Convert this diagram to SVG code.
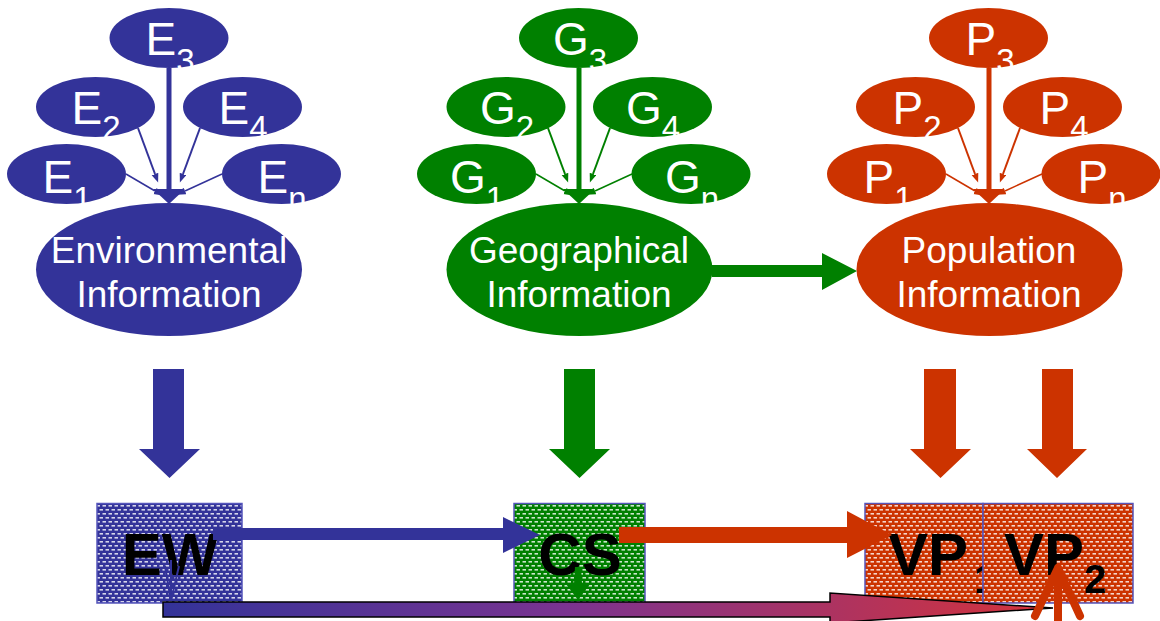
<svg xmlns="http://www.w3.org/2000/svg" width="1160" height="621" viewBox="0 0 1160 621">
<style>
.sub{font-family:"Liberation Sans",Arial,sans-serif;font-size:46px;fill:#fff;text-anchor:middle}
.sub tspan.s{font-size:33px}
.ml{font-family:"Liberation Sans",Arial,sans-serif;font-size:37px;fill:#fff;text-anchor:middle}
.bx{font-family:"Liberation Sans",Arial,sans-serif;font-size:60px;font-weight:bold;fill:#000}
.blue{fill:#333399}.green{fill:#008000}.red{fill:#cc3300}
.box{stroke:#5555bb;stroke-width:1.5}
</style>
<defs>
<pattern id="pB" width="6" height="8" patternUnits="userSpaceOnUse"><rect width="6" height="8" fill="#333399"/><rect x="0.5" y="1" width="3.5" height="1.6" fill="#fff" opacity="0.8"/><rect x="3.5" y="5" width="3.5" height="1.6" fill="#fff" opacity="0.8"/><rect x="-2.5" y="5" width="3.5" height="1.6" fill="#fff" opacity="0.8"/></pattern>
<pattern id="pG" width="6" height="8" patternUnits="userSpaceOnUse"><rect width="6" height="8" fill="#008000"/><rect x="0.5" y="1" width="3.5" height="1.6" fill="#fff" opacity="0.8"/><rect x="3.5" y="5" width="3.5" height="1.6" fill="#fff" opacity="0.8"/><rect x="-2.5" y="5" width="3.5" height="1.6" fill="#fff" opacity="0.8"/></pattern>
<pattern id="pR" width="6" height="8" patternUnits="userSpaceOnUse"><rect width="6" height="8" fill="#cc3300"/><rect x="0.5" y="1" width="3.5" height="1.6" fill="#fff" opacity="0.8"/><rect x="3.5" y="5" width="3.5" height="1.6" fill="#fff" opacity="0.8"/><rect x="-2.5" y="5" width="3.5" height="1.6" fill="#fff" opacity="0.8"/></pattern>
<linearGradient id="grad" gradientUnits="userSpaceOnUse" x1="163" y1="0" x2="1053" y2="0"><stop offset="0" stop-color="#333399"/><stop offset="0.45" stop-color="#7a3390"/><stop offset="1" stop-color="#d6333a"/></linearGradient>
<marker id="mbT" markerUnits="userSpaceOnUse" markerWidth="16" markerHeight="34" refX="0" refY="16" orient="auto"><path d="M0,0 L15,16 L0,32 z" fill="#333399"/></marker>
<marker id="mbt" markerUnits="userSpaceOnUse" markerWidth="10" markerHeight="8" refX="0" refY="3.5" orient="auto"><path d="M0,0 L9,3.5 L0,7 z" fill="#333399"/></marker>
<marker id="mgT" markerUnits="userSpaceOnUse" markerWidth="16" markerHeight="34" refX="0" refY="16" orient="auto"><path d="M0,0 L15,16 L0,32 z" fill="#008000"/></marker>
<marker id="mgt" markerUnits="userSpaceOnUse" markerWidth="10" markerHeight="8" refX="0" refY="3.5" orient="auto"><path d="M0,0 L9,3.5 L0,7 z" fill="#008000"/></marker>
<marker id="mrT" markerUnits="userSpaceOnUse" markerWidth="16" markerHeight="34" refX="0" refY="16" orient="auto"><path d="M0,0 L15,16 L0,32 z" fill="#cc3300"/></marker>
<marker id="mrt" markerUnits="userSpaceOnUse" markerWidth="10" markerHeight="8" refX="0" refY="3.5" orient="auto"><path d="M0,0 L9,3.5 L0,7 z" fill="#cc3300"/></marker>
</defs>
<rect width="1160" height="621" fill="#fff"/>

<!-- Environmental cluster -->
<g id="E3"><ellipse class="blue" cx="169" cy="38" rx="59.5" ry="30"/><text class="sub" x="170" y="55">E<tspan class="s" dy="17">3</tspan></text></g>
<g id="E2"><ellipse class="blue" cx="95.5" cy="107" rx="59.5" ry="30"/><text class="sub" x="96" y="124">E<tspan class="s" dy="15">2</tspan></text></g>
<g id="E4"><ellipse class="blue" cx="242.5" cy="107" rx="59.5" ry="30"/><text class="sub" x="243" y="124">E<tspan class="s" dy="15">4</tspan></text></g>
<g id="E1"><ellipse class="blue" cx="66.5" cy="174" rx="59.5" ry="30"/><text class="sub" x="67" y="193">E<tspan class="s" dy="17">1</tspan></text></g>
<g id="En"><ellipse class="blue" cx="281.5" cy="174" rx="59.5" ry="30"/><text class="sub" x="282" y="193">E<tspan class="s" dy="17">n</tspan></text></g>
<g id="EnvInfo"><ellipse class="blue" cx="169" cy="269.5" rx="133" ry="66.5"/><text class="ml" x="169" y="263">Environmental</text><text class="ml" x="169" y="307">Information</text></g>

<!-- Geographical cluster -->
<g id="G3"><ellipse class="green" cx="578.5" cy="38" rx="59.5" ry="30"/><text class="sub" x="580" y="55">G<tspan class="s" dy="17">3</tspan></text></g>
<g id="G2"><ellipse class="green" cx="506" cy="107" rx="59.5" ry="30"/><text class="sub" x="507" y="124">G<tspan class="s" dy="15">2</tspan></text></g>
<g id="G4"><ellipse class="green" cx="652.5" cy="107" rx="59.5" ry="30"/><text class="sub" x="653" y="124">G<tspan class="s" dy="15">4</tspan></text></g>
<g id="G1"><ellipse class="green" cx="476.5" cy="174" rx="59.5" ry="30"/><text class="sub" x="477" y="193">G<tspan class="s" dy="17">1</tspan></text></g>
<g id="Gn"><ellipse class="green" cx="691" cy="174" rx="59.5" ry="30"/><text class="sub" x="692" y="193">G<tspan class="s" dy="17">n</tspan></text></g>
<g id="GeoInfo"><ellipse class="green" cx="579.5" cy="269.5" rx="133" ry="66.5"/><text class="ml" x="579" y="263">Geographical</text><text class="ml" x="579" y="307">Information</text></g>

<!-- Population cluster -->
<g id="P3"><ellipse class="red" cx="988.5" cy="38" rx="59.5" ry="30"/><text class="sub" x="990" y="55">P<tspan class="s" dy="17">3</tspan></text></g>
<g id="P2"><ellipse class="red" cx="915.5" cy="107" rx="59.5" ry="30"/><text class="sub" x="917" y="124">P<tspan class="s" dy="15">2</tspan></text></g>
<g id="P4"><ellipse class="red" cx="1062.5" cy="107" rx="59.5" ry="30"/><text class="sub" x="1064" y="124">P<tspan class="s" dy="15">4</tspan></text></g>
<g id="P1"><ellipse class="red" cx="886.5" cy="174" rx="59.5" ry="30"/><text class="sub" x="888" y="193">P<tspan class="s" dy="17">1</tspan></text></g>
<g id="Pn"><ellipse class="red" cx="1101" cy="174" rx="59.5" ry="30"/><text class="sub" x="1102" y="193">P<tspan class="s" dy="17">n</tspan></text></g>
<g id="PopInfo"><ellipse class="red" cx="989.5" cy="269.5" rx="133" ry="66.5"/><text class="ml" x="989" y="263">Population</text><text class="ml" x="989" y="307">Information</text></g>

<!-- Bottom boxes -->
<g id="EW"><rect class="box" x="97" y="503.5" width="145" height="99.5" fill="url(#pB)"/><text class="bx" x="170" y="575" text-anchor="middle">EW</text></g>
<g id="CS"><rect class="box" x="514" y="503.5" width="131" height="99" fill="url(#pG)"/><text class="bx" x="580" y="575" text-anchor="middle">CS</text></g>
<g id="VP1"><rect class="box" x="865" y="503.5" width="118" height="99.5" fill="url(#pR)"/><text class="bx" x="888" y="575">VP<tspan font-size="40" dx="6" dy="18">1</tspan></text></g>
<g id="VP2"><rect class="box" x="983" y="503.5" width="150" height="99.5" fill="url(#pR)"/><text class="bx" x="1004" y="575">VP<tspan font-size="40" dy="18">2</tspan></text></g>

<g id="connectors">
  <!-- blue cluster -->
  <line x1="169" y1="68" x2="169" y2="189" stroke="#333399" stroke-width="5" marker-end="url(#mbT)"/>
  <line x1="138" y1="128" x2="155" y2="174" stroke="#333399" stroke-width="2" marker-end="url(#mbt)"/>
  <line x1="200" y1="128" x2="183" y2="174" stroke="#333399" stroke-width="2" marker-end="url(#mbt)"/>
  <line x1="126" y1="174" x2="155" y2="191" stroke="#333399" stroke-width="1.5" marker-end="url(#mbt)"/>
  <line x1="222" y1="174" x2="185" y2="191" stroke="#333399" stroke-width="1.5" marker-end="url(#mbt)"/>
  <!-- green cluster -->
  <line x1="579" y1="68" x2="579" y2="189" stroke="#008000" stroke-width="5" marker-end="url(#mgT)"/>
  <line x1="548" y1="128" x2="565" y2="174" stroke="#008000" stroke-width="2" marker-end="url(#mgt)"/>
  <line x1="610" y1="128" x2="593" y2="174" stroke="#008000" stroke-width="2" marker-end="url(#mgt)"/>
  <line x1="536" y1="174" x2="565" y2="191" stroke="#008000" stroke-width="1.5" marker-end="url(#mgt)"/>
  <line x1="632" y1="174" x2="595" y2="191" stroke="#008000" stroke-width="1.5" marker-end="url(#mgt)"/>
  <!-- red cluster -->
  <line x1="989" y1="68" x2="989" y2="189" stroke="#cc3300" stroke-width="5" marker-end="url(#mrT)"/>
  <line x1="958" y1="128" x2="975" y2="174" stroke="#cc3300" stroke-width="2" marker-end="url(#mrt)"/>
  <line x1="1020" y1="128" x2="1003" y2="174" stroke="#cc3300" stroke-width="2" marker-end="url(#mrt)"/>
  <line x1="946" y1="174" x2="975" y2="191" stroke="#cc3300" stroke-width="1.5" marker-end="url(#mrt)"/>
  <line x1="1042" y1="174" x2="1005" y2="191" stroke="#cc3300" stroke-width="1.5" marker-end="url(#mrt)"/>
  <!-- Geographical -> Population -->
  <polygon class="green" points="712,265 822,265 822,253 857,271 822,290 822,277 712,277"/>
  <!-- down arrows -->
  <polygon class="blue" points="153,369 184,369 184,449 200,449 169.5,478 139,449 153,449"/>
  <polygon class="green" points="564,369 595,369 595,449 610,449 579.5,478 549,449 564,449"/>
  <polygon class="red" points="924,369 956,369 956,449 971,449 940.5,478 910,449 924,449"/>
  <polygon class="red" points="1042,369 1073,369 1073,449 1087,449 1057,478 1027,449 1042,449"/>
  <!-- EW -> CS -->
  <polygon class="blue" points="213,528 503,528 503,517 540,535 503,553 503,540 213,540"/>
  <!-- CS -> VP1 -->
  <polygon class="red" points="619,527 847,527 847,511 892,535 847,558 847,543 619,543"/>
  <!-- small arrows -->
  <line x1="171" y1="560" x2="171" y2="601" stroke="#333399" stroke-width="2"/>
  <polyline points="165,566 171,601 179,566" fill="none" stroke="#333399" stroke-width="2"/>
  <polygon class="green" points="575,567 581,567 582,584 590,584 578,600 566,584 574,584"/>
  <!-- gradient bar -->
  <polygon points="163,602 830,602 830,593 1053,608 830,623 830,617 163,617" fill="url(#grad)" stroke="#000" stroke-width="1.5"/>
  <!-- red up arrow -->
  <path d="M1035,616 L1058,568 L1080,616 M1058,568 L1058,625" fill="none" stroke="#cc3300" stroke-width="8" stroke-linecap="round" stroke-linejoin="round"/>
</g>
</svg>
